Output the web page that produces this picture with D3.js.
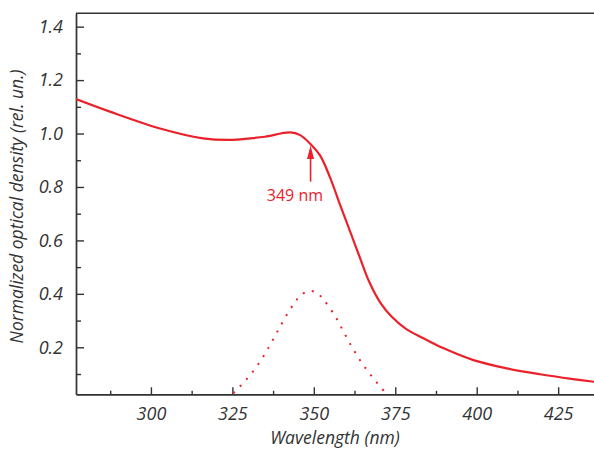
<!DOCTYPE html>
<html>
<head>
<meta charset="utf-8">
<script src="https://cdn.jsdelivr.net/npm/d3@7"></script>
<style>
	body { margin: 0; background: #fff; }
	svg text { font-family: "Open Sans", sans-serif; }
</style>
</head>
<body>
<div id="canvas"></div>
<script>
// espectro de absorcion (nm, densidad optica normalizada)
var wl_abs = [277, 287.4, 302.8, 316, 324.3, 330.4, 335, 342.7, 345.8, 348.8, 351.9, 355, 358, 361.1, 364, 367, 370.5, 374, 378.5, 383.6, 389.7, 399, 409.2, 419.4, 429.6, 436];
var od_abs = [1.129, 1.082, 1.019, 0.982, 0.976, 0.982, 0.988, 1.004, 0.994, 0.963, 0.918, 0.835, 0.735, 0.635, 0.54, 0.445, 0.365, 0.313, 0.267, 0.234, 0.197, 0.152, 0.121, 0.099, 0.081, 0.071];

// banda gaussiana (linea punteada)
var wl_band = [325.3, 329.2, 332.8, 335.8, 338.5, 341.2, 344.2, 346.0, 348.7, 351.1, 353.0, 356.3, 359.0, 361.7, 364.7, 368.0, 371.5];
var od_band = [0.028, 0.078, 0.134, 0.192, 0.252, 0.311, 0.369, 0.395, 0.411, 0.402, 0.378, 0.321, 0.261, 0.201, 0.142, 0.088, 0.037];

var x_major = [300, 325, 350, 375, 400, 425];
var x_minor = [287.5, 312.5, 337.5, 362.5, 387.5, 412.5];
var y_major = [0.2, 0.4, 0.6, 0.8, 1.0, 1.2, 1.4];
var y_minor = [0.1, 0.3, 0.5, 0.7, 0.9, 1.1, 1.3];

var peak_label = '349 nm';
var peak_wl = 349;

/* ------------- d3 definitions ---------- */
var width = 594,
	height = 450;
var m_left = 76, m_right = 594, m_top = 13.3, m_bottom = 394.3;
var red = '#ea2129', ink = '#333';

var x_scale = d3.scaleLinear()
	.domain([277, 436])
	.range([m_left, m_right]);

var y_scale = d3.scaleLinear()
	.domain([0.024, 1.45])
	.range([m_bottom, m_top]);

var lineFunction = d3.line()
	.x(function(d) { return x_scale(d.x); })
	.y(function(d) { return y_scale(d.y); })
	.curve(d3.curveCatmullRom.alpha(0.5));

function pairs(xs, ys) {
	return xs.map(function(v, i) { return {x: v, y: ys[i]}; });
}

var canvas = d3.select('#canvas')
	.append('svg')
	.attr('width', width)
	.attr('height', height);

canvas.append('clipPath')
	.attr('id', 'plot-clip')
	.append('rect')
	.attr('x', m_left).attr('y', m_top)
	.attr('width', m_right - m_left).attr('height', m_bottom - m_top);

// ejes
var y_axis = d3.axisLeft(y_scale).tickValues(y_major).tickSize(-8).tickSizeOuter(0).tickPadding(13)
	.tickFormat(d3.format('.1f'));
var y_axis_minor = d3.axisLeft(y_scale).tickValues(y_minor).tickSize(-5).tickSizeOuter(0).tickFormat('');
var x_axis = d3.axisBottom(x_scale).tickValues(x_major).tickSize(-7).tickSizeOuter(0).tickPadding(13);
var x_axis_minor = d3.axisBottom(x_scale).tickValues(x_minor).tickSize(-3.5).tickSizeOuter(0).tickFormat('');

[[y_axis_minor, 'y'], [y_axis, 'y'], [x_axis_minor, 'x'], [x_axis, 'x']].forEach(function(a) {
	var g = canvas.append('g')
		.attr('transform', a[1] === 'y' ? 'translate(' + m_left + ',0)' : 'translate(0,' + m_bottom + ')')
		.call(a[0]);
	g.selectAll('path, line').attr('stroke', ink).attr('stroke-width', 1.4);
	g.selectAll('text')
		.attr('fill', ink)
		.style('font-size', '18px')
		.style('font-style', 'italic');
});

canvas.append('line')
	.attr('x1', m_left).attr('x2', m_right)
	.attr('y1', m_top).attr('y2', m_top)
	.attr('stroke', ink).attr('stroke-width', 1.4);

// curvas
canvas.append('path')
	.attr('d', lineFunction(pairs(wl_band, od_band)))
	.attr('fill', 'none')
	.attr('stroke', red)
	.attr('stroke-width', 2)
	.attr('stroke-dasharray', '2 7.4')
	.attr('clip-path', 'url(#plot-clip)');

canvas.append('path')
	.attr('d', lineFunction(pairs(wl_abs, od_abs)))
	.attr('fill', 'none')
	.attr('stroke', red)
	.attr('stroke-width', 2.2)
	.attr('clip-path', 'url(#plot-clip)');

// flecha del maximo
var ax = x_scale(peak_wl);
canvas.append('line')
	.attr('x1', ax).attr('x2', ax)
	.attr('y1', y_scale(0.82)).attr('y2', y_scale(0.93))
	.attr('stroke', red).attr('stroke-width', 1.6);
canvas.append('path')
	.attr('d', 'M' + ax + ',' + y_scale(0.955) + 'L' + (ax - 3.5) + ',' + y_scale(0.905) + 'L' + (ax + 3.5) + ',' + y_scale(0.905) + 'Z')
	.attr('fill', red);
canvas.append('text')
	.attr('x', x_scale(344.2)).attr('y', y_scale(0.747))
	.attr('text-anchor', 'middle')
	.attr('fill', red)
	.style('font-size', '16px')
	.text(peak_label);

// titulos de ejes
canvas.append('text')
	.attr('transform', 'translate(23,206.5) rotate(-90)')
	.attr('text-anchor', 'middle')
	.attr('fill', ink)
	.style('font-size', '17.5px')
	.style('font-style', 'italic')
	.text('Normalized optical density (rel. un.)');

canvas.append('text')
	.attr('x', (m_left + m_right) / 2)
	.attr('y', 444)
	.attr('text-anchor', 'middle')
	.attr('fill', ink)
	.style('font-size', '17.5px')
	.style('font-style', 'italic')
	.text('Wavelength (nm)');
/* ------------ end d3 definitions ------------ */
</script>
</body>
</html>
